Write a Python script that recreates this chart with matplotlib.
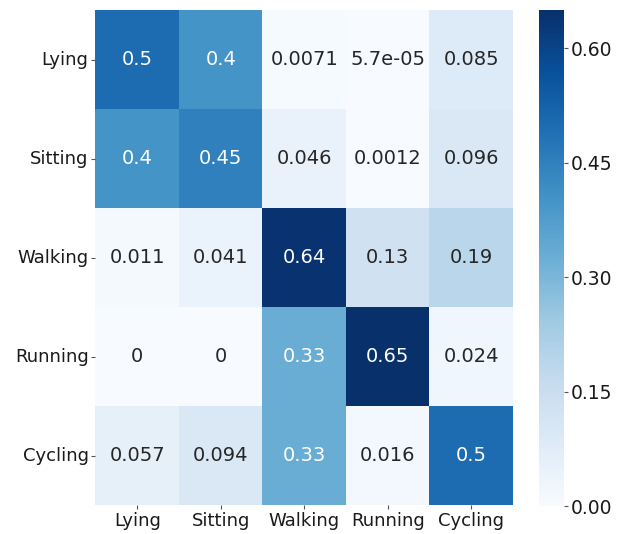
import numpy as np
import matplotlib
matplotlib.use("Agg")
import matplotlib.pyplot as plt
import seaborn as sns

labels = ["Lying", "Sitting", "Walking", "Running", "Cycling"]
row_lying = [0.5, 0.4, 0.0071, 5.7e-05, 0.085]
row_sitting = [0.4, 0.45, 0.046, 0.0012, 0.096]
row_walking = [0.011, 0.041, 0.64, 0.13, 0.19]
row_running = [0.0, 0.0, 0.33, 0.65, 0.024]
row_cycling = [0.057, 0.094, 0.33, 0.016, 0.5]
cbar_ticks = [0.0, 0.15, 0.30, 0.45, 0.60]

matrix = np.array([row_lying, row_sitting, row_walking, row_running, row_cycling])

fig = plt.figure(figsize=(6.24, 5.34), dpi=100)
ax = fig.add_axes([0.153, 0.054, 0.669, 0.927])
cax = fig.add_axes([0.864, 0.052, 0.040, 0.929])

sns.heatmap(matrix, annot=True, fmt=".2g", cmap="Blues", ax=ax, cbar_ax=cax,
            xticklabels=labels, yticklabels=labels,
            annot_kws={"fontsize": 14})

ax.set_yticklabels(labels, rotation=0)
ax.set_xticklabels(labels, rotation=0)
ax.tick_params(axis="both", labelsize=13, length=3, pad=2, color="#555555",
               labelcolor="#1a1a1a")

cax.set_yticks(cbar_ticks)
cax.set_yticklabels([f"{t:.2f}" for t in cbar_ticks])
cax.tick_params(labelsize=13.5, length=3, pad=2, color="#555555",
                labelcolor="#1a1a1a")
for s in cax.spines.values():
    s.set_visible(False)

fig.savefig("out.png", dpi=100)
